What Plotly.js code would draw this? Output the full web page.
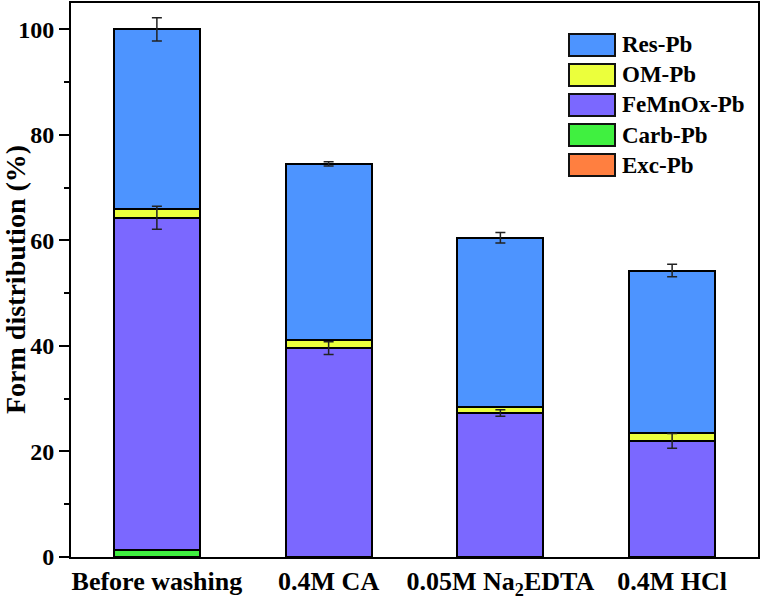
<!DOCTYPE html>
<html>
<head>
<meta charset="utf-8">
<script src="https://cdn.plot.ly/plotly-3.0.1.min.js"></script>
<style>html,body{margin:0;padding:0;background:#fff;}#chart{width:763px;height:600px;}</style>
</head>
<body>
<div id="chart"></div>
<script>
// ---- data ----
const categories = ['Before washing', '0.4M CA', '0.05M Na<sub>2</sub>EDTA', '0.4M HCl'];
const excPb    = [0, 0, 0, 0];
const carbPb   = [1.3, 0, 0, 0];
const femnoxPb = [63.0, 39.6, 27.3, 22.0];
const omPb     = [1.7, 1.6, 1.2, 1.5];
const resPb    = [34.0, 33.3, 32.0, 30.8];
const femnoxErr = [2.2, 1.2, 0.6, 1.4];
const resErr    = [2.2, 0.4, 1.0, 1.2];
const seriesNames = ['Exc-Pb', 'Carb-Pb', 'FeMnOx-Pb', 'OM-Pb', 'Res-Pb'];
const seriesValues = [excPb, carbPb, femnoxPb, omPb, resPb];
const seriesColors = ['#ff7f40', '#40f040', '#7b68ff', '#ebff3c', '#4d94ff'];

const FONT = 'Liberation Serif, Times New Roman, serif';

const traces = seriesNames.map((n, i) => ({
  type: 'bar', name: n, x: categories, y: seriesValues[i],
  marker: {color: seriesColors[i], line: {color: '#000', width: 2}},
  width: 0.5, showlegend: false, hoverinfo: 'skip'
}));

// cumulative tops for error bars
function cumTop(uptoIdx) {
  return categories.map((c, k) => {
    let s = 0;
    for (let j = 0; j <= uptoIdx; j++) s += seriesValues[j][k];
    return s;
  });
}
traces.push({
  type: 'scatter', mode: 'markers', x: categories, y: cumTop(2),
  marker: {size: 0.1, color: 'rgba(0,0,0,0)'}, showlegend: false, hoverinfo: 'skip',
  error_y: {type: 'data', array: femnoxErr, visible: true, color: '#222', thickness: 1.5, width: 5}
});
traces.push({
  type: 'scatter', mode: 'markers', x: categories, y: cumTop(4),
  marker: {size: 0.1, color: 'rgba(0,0,0,0)'}, showlegend: false, hoverinfo: 'skip',
  error_y: {type: 'data', array: resErr, visible: true, color: '#222', thickness: 1.5, width: 5}
});

// plot area in pixels
const L = 71, R = 758, T = 3, B = 557, W = 763, H = 600;
const px = x => (x - L) / (R - L);
const py = y => (B - y) / (B - T);

// custom legend (top to bottom: Res, OM, FeMnOx, Carb, Exc)
const shapes = [];
const annotations = [];
const legendOrder = [4, 3, 2, 1, 0];
legendOrder.forEach((si, r) => {
  const cy = 45 + r * 30;
  shapes.push({type: 'rect', xref: 'paper', yref: 'paper',
    x0: px(569), x1: px(615), y0: py(cy - 11), y1: py(cy + 11),
    fillcolor: seriesColors[si], line: {color: '#111', width: 2}});
  annotations.push({xref: 'paper', yref: 'paper', x: px(620), y: py(cy),
    xanchor: 'left', yanchor: 'middle', showarrow: false,
    text: seriesNames[si], font: {family: FONT, size: 23, color: '#000', weight: 'bold'}});
});
annotations.push({xref: 'paper', yref: 'paper', x: px(15), y: py(280),
  xanchor: 'center', yanchor: 'middle', showarrow: false, textangle: -90,
  text: 'Form distribution (%)', font: {family: FONT, size: 28, color: '#000', weight: 'bold'}});

const layout = {
  width: W, height: H,
  margin: {l: L, r: W - R, t: T, b: H - B, pad: 0},
  paper_bgcolor: '#fff', plot_bgcolor: '#fff',
  barmode: 'stack',
  showlegend: false,
  xaxis: {
    type: 'category', range: [-0.5, 3.5],
    showline: true, mirror: true, linecolor: '#000', linewidth: 2,
    ticks: '', showgrid: false, zeroline: false,
    tickfont: {family: FONT, size: 26, color: '#000', weight: 'bold'}
  },
  yaxis: {
    range: [0, 105], tickvals: [0, 20, 40, 60, 80, 100],
    showline: true, mirror: true, linecolor: '#000', linewidth: 2,
    ticks: 'outside', ticklen: 10, tickwidth: 2, tickcolor: '#000',
    minor: {tickvals: [10, 30, 50, 70, 90], ticks: 'outside', ticklen: 5, tickwidth: 2, tickcolor: '#000'},
    showgrid: false, zeroline: false,
    tickfont: {family: FONT, size: 24, color: '#000', weight: 'bold'}
  },
  shapes: shapes,
  annotations: annotations
};

Plotly.newPlot('chart', traces, layout, {displayModeBar: false, staticPlot: true});
</script>
</body>
</html>
